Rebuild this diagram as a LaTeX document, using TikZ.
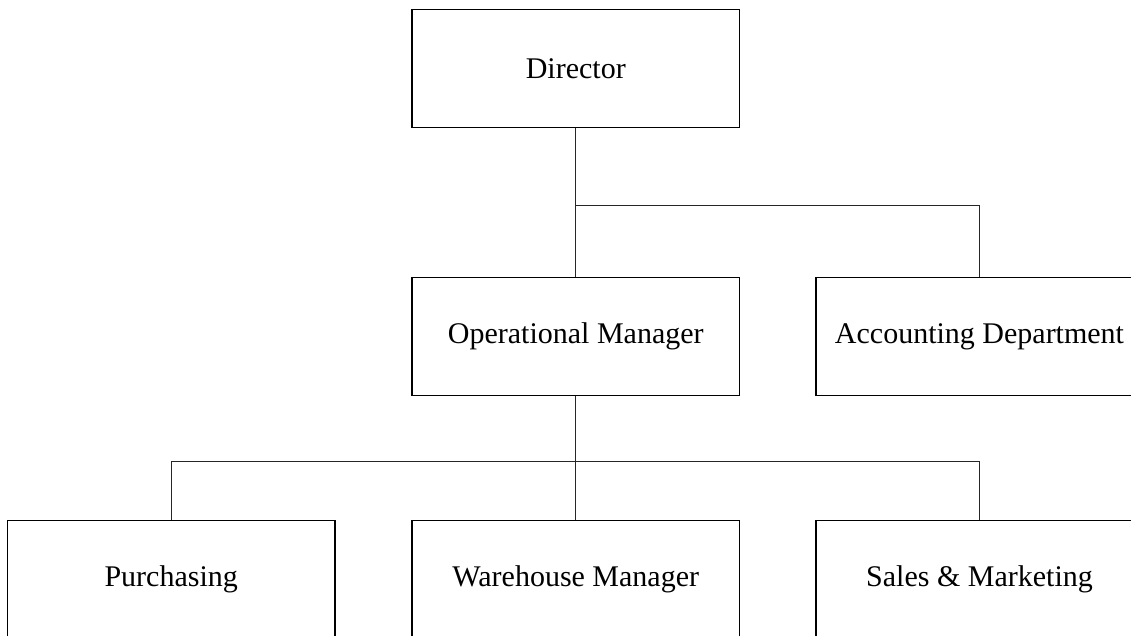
\documentclass[tikz,border=0pt]{standalone}
\usepackage{fontspec}
\setmainfont{Liberation Serif}
\begin{document}
\begin{tikzpicture}[x=1pt,y=-1pt,
  box/.style={draw=black,line width=1.5pt,rectangle,minimum width=327.5pt,minimum height=118pt,inner sep=0pt,font=\fontsize{30}{34}\selectfont},
  conn/.style={draw=black!85,line width=1.1pt}]
\useasboundingbox (0,0) rectangle (1131,636);
\clip (0,0) rectangle (1131,636);
\node[box] (dir) at (575.8,68.3) {Director};
\node[box] (om) at (575.8,336.5) {Operational Manager};
\node[box] (acc) at (979.5,336.5) {Accounting Department};
\node[box] (pur) at (171.2,579.7) {Purchasing};
\node[box] (wh) at (575.8,579.7) {Warehouse Manager};
\node[box] (sal) at (979.5,579.7) {Sales \& Marketing};
\coordinate (b1) at (575.8,205.7);
\coordinate (b2) at (575.8,461.3);
\draw[conn] (dir.south) -- (om.north);
\draw[conn] (b1) -| (acc.north);
\draw[conn] (om.south) -- (wh.north);
\draw[conn] (pur.north) |- (b2) -| (sal.north);
\end{tikzpicture}
\end{document}
